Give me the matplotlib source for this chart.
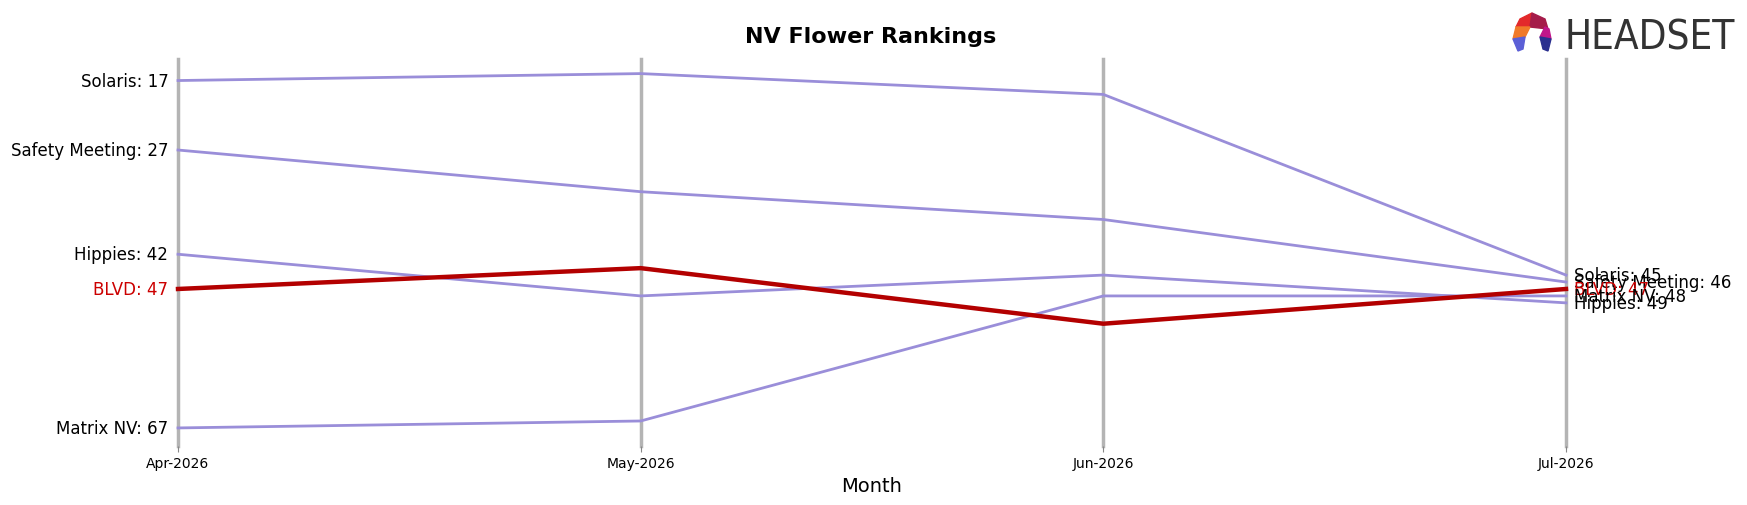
import matplotlib.pyplot as plt
from matplotlib.patches import Polygon

# data
months = ["Apr-2026", "May-2026", "Jun-2026", "Jul-2026"]
solaris = [17, 16, 19, 45]
safety_meeting = [27, 33, 37, 46]
hippies = [42, 48, 45, 49]
blvd = [47, 44, 52, 47]
matrix_nv = [67, 66, 48, 48]

brands = ["Solaris", "Safety Meeting", "Hippies", "BLVD", "Matrix NV"]
ranks = [solaris, safety_meeting, hippies, blvd, matrix_nv]
highlight = "BLVD"

fig = plt.figure(figsize=(17.47, 5.06), dpi=100)
ax = fig.add_axes([178 / 1747, 1 - 447 / 506, (1566 - 178) / 1747, (447 - 60) / 506])

x = list(range(len(months)))
for xi in x:
    ax.axvline(xi, color="#b4b4b4", lw=2.5, zorder=1, clip_on=False)

for name, r in zip(brands, ranks):
    if name == highlight:
        ax.plot(x, r, color="#b30000", lw=3.2, zorder=3, clip_on=False)
        tc = "#cc0000"
    else:
        ax.plot(x, r, color="#9a8ed9", lw=2, zorder=2, clip_on=False)
        tc = "black"
    ax.annotate(f"{name}: {r[0]}", (x[0], r[0]), xytext=(-7, 0),
                textcoords="offset points", ha="right", va="center",
                fontsize=12, color=tc)
    ax.annotate(f"{name}: {r[-1]}", (x[-1], r[-1]), xytext=(6, 0),
                textcoords="offset points", ha="left", va="center",
                fontsize=12, color=tc)

ax.set_xlim(0, 3)
ax.set_ylim(69.6, 13.9)
ax.set_xticks(x)
ax.set_xticklabels(months, fontsize=10)
ax.set_yticks([])
ax.tick_params(axis="x", length=4, color="#888888")
for s in ax.spines.values():
    s.set_visible(False)
ax.set_xlabel("Month", fontsize=14, labelpad=4)
fig.text(871 / 1747, 1 - 37 / 506, "NV Flower Rankings", ha="center", va="center",
         fontsize=16, fontweight="bold")

# logo
def fx(px):
    return px / 1747

def fy(py):
    return 1 - py / 506

logo = [
    ([(1520, 20), (1532, 14), (1530, 28), (1516, 28)], "#e3292b"),
    ([(1532, 14), (1545, 20), (1548, 30), (1530, 28)], "#a51c4a"),
    ([(1516, 28), (1530, 28), (1525, 38), (1513, 40)], "#f07a2a"),
    ([(1545, 28), (1549, 30), (1551, 40), (1540, 38)], "#c0168a"),
    ([(1513, 40), (1525, 38), (1523, 50), (1518, 52)], "#5b5fd6"),
    ([(1540, 38), (1551, 40), (1548, 52), (1543, 50)], "#2a2f8f"),
]
for pts, c in logo:
    fig.patches.append(Polygon([(fx(a), fy(b)) for a, b in pts], closed=True,
                               transform=fig.transFigure, color=c))
fig.text(fx(1565), fy(38), "HEADSET", ha="left", va="center", fontsize=29,
         color="#333333", fontstretch="condensed")

fig.savefig("out.png", dpi=100)
